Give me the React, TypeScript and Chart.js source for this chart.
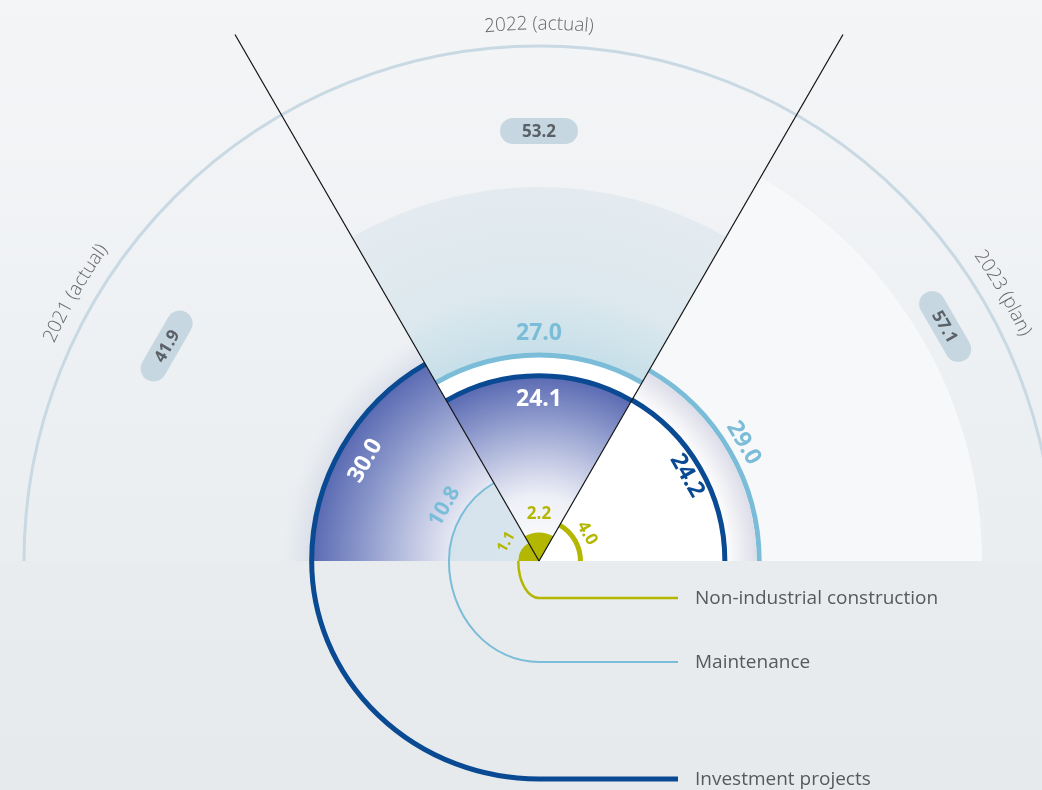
import React, { useEffect, useRef } from 'react';
import { Chart, registerables } from 'chart.js';

Chart.register(...registerables);

// ---------------- data ----------------
const years = ['2021 (actual)', '2022 (actual)', '2023 (plan)'];
const seriesNames = ['Investment projects', 'Maintenance', 'Non-industrial construction'];
const investment = [30.0, 24.1, 24.2];
const maintenance = [10.8, 27.0, 29.0];
const nonIndustrial = [1.1, 2.2, 4.0];
const totals = [41.9, 53.2, 57.1];

// ---------------- styles ----------------
const CANVAS_W = 1078;
const CANVAS_H = 1122;
const DARK = '#0a4a93';
const LIGHT = '#7bbdd8';
const OLIVE = '#b3b700';
const FONT = '"Open Sans", "Noto Sans", sans-serif';

// per series style: [investment, maintenance, nonIndustrial]
const SERIES_STYLE = [
  {
    color: DARK,
    fill: ['grad', 'grad', '#ffffff'],
    stroke: [5, 5, 5],
    labelColor: ['#ffffff', '#ffffff', DARK],
    labelOffset: [-27, -24, -15],
    labelSize: [23, 23, 23],
    legendY: 779,
    legendWidth: 5,
  },
  {
    color: LIGHT,
    fill: ['rgba(212,226,235,0.9)', '#ffffff', '#ffffff'],
    stroke: [2, 5, 5],
    labelColor: [LIGHT, LIGHT, LIGHT],
    labelOffset: [19, 22, 16],
    labelSize: [21, 23, 23],
    legendY: 662,
    legendWidth: 2,
  },
  {
    color: OLIVE,
    fill: [OLIVE, OLIVE, '#ffffff'],
    stroke: [0, 0, 5],
    labelColor: [OLIVE, OLIVE, OLIVE],
    labelOffset: [17, 18, 14],
    labelSize: [15, 17, 17],
    legendY: 598,
    legendWidth: 2.5,
  },
];

const PILL_RADIUS = [430, 430, 469];
const YEAR_RADIUS = 537;
const OUTER_ARC_R = 515;
const SEP_LEN = 608;
const SECTOR22_R = 374;
const SECTOR23_R = 443;
const LEGEND_LINE_END = 678;
const LEGEND_TEXT_X = 695;

function sectorPath(ctx: CanvasRenderingContext2D, cx: number, cy: number, r: number, a0: number, a1: number) {
  ctx.beginPath();
  ctx.moveTo(cx, cy);
  ctx.arc(cx, cy, r, a0, a1);
  ctx.closePath();
}

function rotatedText(ctx: CanvasRenderingContext2D, text: string, x: number, y: number, rot: number) {
  ctx.save();
  ctx.translate(x, y);
  ctx.rotate(rot);
  ctx.fillText(text, 0, 0);
  ctx.restore();
}

function arcText(ctx: CanvasRenderingContext2D, text: string, cx: number, cy: number, r: number, mid: number) {
  const total = ctx.measureText(text).width;
  let a = mid - total / r / 2;
  for (const ch of text) {
    const w = ctx.measureText(ch).width;
    const ang = a + w / 2 / r;
    ctx.save();
    ctx.translate(cx + r * Math.cos(ang), cy + r * Math.sin(ang));
    ctx.rotate(ang + Math.PI / 2);
    ctx.fillText(ch, 0, 0);
    ctx.restore();
    a += w / r;
  }
}

const infographic = {
  id: 'infographic',
  beforeDraw(chart: any) {
    const ctx: CanvasRenderingContext2D = chart.ctx;
    const s = chart.scales.r;
    const cx = s.xCenter;
    const cy = s.yCenter;
    const inv = chart.getDatasetMeta(0).data;
    ctx.save();
    // page background
    let g = ctx.createLinearGradient(0, 0, 0, cy);
    g.addColorStop(0, '#f4f5f7');
    g.addColorStop(1, '#eaeef1');
    ctx.fillStyle = g;
    ctx.fillRect(0, 0, chart.width, cy);
    g = ctx.createLinearGradient(0, cy, 0, 790);
    g.addColorStop(0, '#e8ecef');
    g.addColorStop(1, '#e6eaed');
    ctx.fillStyle = g;
    ctx.fillRect(0, cy, chart.width, chart.height - cy);

    // 2023 sector background
    sectorPath(ctx, cx, cy, SECTOR23_R, inv[2].startAngle, inv[2].endAngle);
    ctx.fillStyle = '#f7f8fa';
    ctx.fill();

    // 2022 highlighted sector
    sectorPath(ctx, cx, cy, SECTOR22_R, inv[1].startAngle, inv[1].endAngle);
    g = ctx.createRadialGradient(cx, cy, 0, cx, cy, SECTOR22_R);
    g.addColorStop(0, '#c2dde8');
    g.addColorStop(0.55, '#c6dfe9');
    g.addColorStop(0.72, '#dce8ee');
    g.addColorStop(1, '#e4ebf0');
    ctx.fillStyle = g;
    ctx.fill();

    // soft glow around 2021 investment arc
    const r0 = inv[0].outerRadius;
    ctx.beginPath();
    ctx.arc(cx, cy, r0 + 30, inv[0].startAngle, inv[0].endAngle);
    ctx.arc(cx, cy, r0, inv[0].endAngle, inv[0].startAngle, true);
    ctx.closePath();
    g = ctx.createRadialGradient(cx, cy, r0, cx, cy, r0 + 30);
    g.addColorStop(0, 'rgba(205,209,226,0.6)');
    g.addColorStop(1, 'rgba(220,226,234,0)');
    ctx.fillStyle = g;
    ctx.fill();

    // outer arc
    ctx.beginPath();
    ctx.arc(cx, cy, OUTER_ARC_R, Math.PI, 2 * Math.PI);
    ctx.strokeStyle = '#c9d9e3';
    ctx.lineWidth = 3;
    ctx.stroke();

    // year labels along the arc
    ctx.fillStyle = '#686868';
    ctx.font = `300 19px ${FONT}`;
    ctx.textAlign = 'center';
    ctx.textBaseline = 'middle';
    years.forEach((y, i) => {
      const mid = (inv[i].startAngle + inv[i].endAngle) / 2;
      arcText(ctx, y, cx, cy, YEAR_RADIUS, mid);
    });

    // total pills
    totals.forEach((t, i) => {
      const mid = (inv[i].startAngle + inv[i].endAngle) / 2;
      const r = PILL_RADIUS[i];
      ctx.save();
      ctx.translate(cx + r * Math.cos(mid), cy + r * Math.sin(mid));
      ctx.rotate(mid + Math.PI / 2);
      ctx.beginPath();
      (ctx as any).roundRect(-39, -13, 78, 26, 13);
      ctx.fillStyle = '#c7d7e1';
      ctx.fill();
      ctx.fillStyle = '#5a6166';
      ctx.font = `bold 17px ${FONT}`;
      ctx.fillText(t.toFixed(1), 0, 1);
      ctx.restore();
    });
    ctx.restore();
  },
  afterDatasetsDraw(chart: any) {
    const ctx: CanvasRenderingContext2D = chart.ctx;
    const s = chart.scales.r;
    const cx = s.xCenter;
    const cy = s.yCenter;
    const metas = [0, 1, 2].map((d) => chart.getDatasetMeta(d).data);
    ctx.save();

    for (let i = 0; i < years.length; i++) {
      const pieces = [0, 1, 2]
        .map((d) => ({ d, el: metas[d][i] }))
        .sort((a, b) => b.el.outerRadius - a.el.outerRadius);
      pieces.forEach((p, k) => {
        const st = SERIES_STYLE[p.d];
        const el = p.el;
        const r = el.outerRadius;
        // shadow band for the plan sector inside a larger arc
        if (p.d === 0 && st.fill[i] === '#ffffff' && k > 0) {
          const outerR = pieces[k - 1].el.outerRadius - 2.5;
          ctx.beginPath();
          ctx.arc(el.x, el.y, outerR, el.startAngle, el.endAngle);
          ctx.arc(el.x, el.y, r, el.endAngle, el.startAngle, true);
          ctx.closePath();
          const g = ctx.createRadialGradient(el.x, el.y, r, el.x, el.y, outerR);
          g.addColorStop(0, '#ffffff');
          g.addColorStop(1, '#dcdde8');
          ctx.fillStyle = g;
          ctx.fill();
        }
        sectorPath(ctx, el.x, el.y, r, el.startAngle, el.endAngle);
        if (st.fill[i] === 'grad') {
          const g = ctx.createRadialGradient(el.x, el.y, 0, el.x, el.y, r);
          g.addColorStop(0, '#ffffff');
          g.addColorStop(0.35, '#eef0f7');
          g.addColorStop(0.55, '#c3c9e4');
          g.addColorStop(0.8, '#8794c9');
          g.addColorStop(1, '#5a6ab2');
          ctx.fillStyle = g;
        } else {
          ctx.fillStyle = st.fill[i];
        }
        ctx.fill();
        if (st.stroke[i] > 0) {
          ctx.beginPath();
          ctx.arc(el.x, el.y, r, el.startAngle, el.endAngle);
          ctx.strokeStyle = st.color;
          ctx.lineWidth = st.stroke[i];
          ctx.lineCap = 'butt';
          ctx.stroke();
        }
      });
    }

    // separator lines
    const mid = metas[0][1];
    ctx.strokeStyle = '#111111';
    ctx.lineWidth = 1.2;
    [mid.startAngle, mid.endAngle].forEach((a) => {
      ctx.beginPath();
      ctx.moveTo(cx, cy);
      ctx.lineTo(cx + SEP_LEN * Math.cos(a), cy + SEP_LEN * Math.sin(a));
      ctx.stroke();
    });

    // value labels
    const values = [investment, maintenance, nonIndustrial];
    ctx.textAlign = 'center';
    ctx.textBaseline = 'middle';
    values.forEach((vals, d) => {
      const st = SERIES_STYLE[d];
      vals.forEach((v, i) => {
        const el = metas[d][i];
        const a = (el.startAngle + el.endAngle) / 2;
        const rr = el.outerRadius + st.labelOffset[i];
        ctx.fillStyle = st.labelColor[i];
        ctx.font = `bold ${st.labelSize[i]}px ${FONT}`;
        rotatedText(ctx, v.toFixed(1), cx + rr * Math.cos(a), cy + rr * Math.sin(a), a + Math.PI / 2);
      });
    });

    // legend leader lines
    ctx.textAlign = 'left';
    seriesNames.forEach((name, d) => {
      const st = SERIES_STYLE[d];
      const el = metas[d][0];
      const r = el.outerRadius;
      const y = st.legendY;
      ctx.beginPath();
      ctx.moveTo(cx - r, cy);
      ctx.ellipse(cx, cy, r, y - cy, 0, Math.PI, Math.PI / 2, true);
      ctx.lineTo(LEGEND_LINE_END, y);
      ctx.strokeStyle = st.color;
      ctx.lineWidth = st.legendWidth;
      ctx.stroke();
      ctx.fillStyle = '#595959';
      ctx.font = `19px ${FONT}`;
      ctx.fillText(name, LEGEND_TEXT_X, y + 1);
    });
    ctx.restore();
  },
};

export default function App() {
  const ref = useRef<HTMLCanvasElement>(null);
  useEffect(() => {
    if (!ref.current) return;
    const pad = (arr: number[]) => [...arr, null, null, null];
    const transparent = 'rgba(0,0,0,0)';
    const chart = new Chart(ref.current, {
      type: 'polarArea',
      data: {
        labels: [...years, '', '', ''],
        datasets: [
          { label: seriesNames[0], data: pad(investment), backgroundColor: transparent, borderWidth: 0, angle: 60 } as any,
          { label: seriesNames[1], data: pad(maintenance), backgroundColor: transparent, borderWidth: 0, angle: 60 } as any,
          { label: seriesNames[2], data: pad(nonIndustrial), backgroundColor: transparent, borderWidth: 0, angle: 60 } as any,
        ],
      },
      options: {
        responsive: false,
        animation: false,
        devicePixelRatio: 1,
        layout: { padding: 0 },
        events: [],
        plugins: { legend: { display: false }, tooltip: { enabled: false } },
        scales: {
          r: {
            display: false,
            min: -1.8,
            max: 73.6,
            startAngle: -90,
            ticks: { display: false },
            pointLabels: { display: false },
          } as any,
        },
      } as any,
      plugins: [infographic],
    });
    return () => chart.destroy();
  }, []);
  return (
    <div style={{ position: 'fixed', left: 0, top: 0, width: 1042, height: 790, overflow: 'hidden' }}>
      <canvas ref={ref} width={CANVAS_W} height={CANVAS_H} style={{ display: 'block' }} />
    </div>
  );
}
